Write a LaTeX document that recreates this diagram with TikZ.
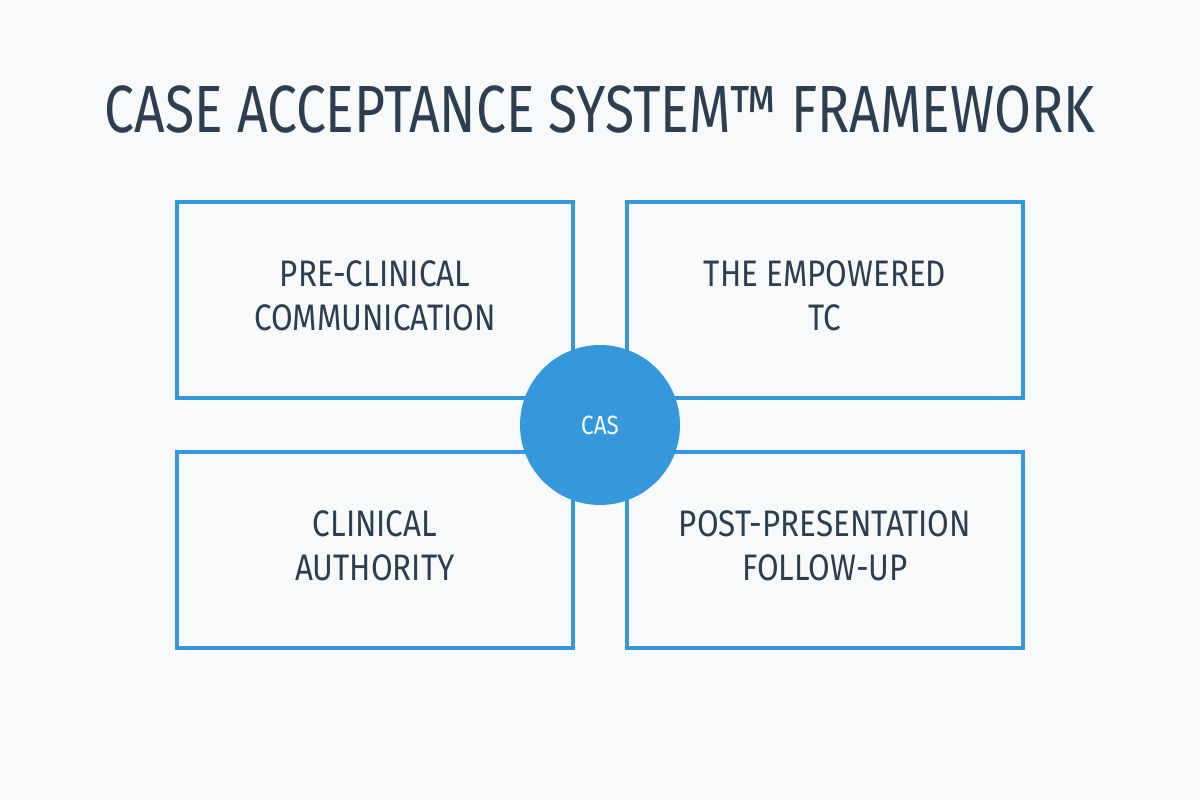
\documentclass[tikz,border=0pt]{standalone}
\usepackage{fontspec}
\setmainfont{Fira Sans}
\definecolor{bg}{HTML}{F7F9FB}
\definecolor{bl}{HTML}{3498DB}
\definecolor{tx}{HTML}{2C3E50}
\begin{document}
\begin{tikzpicture}[x=0.02cm,y=-0.02cm,
  box/.style={draw=bl,line width=2.2pt,fill=bg,minimum width=7.92cm,minimum height=3.92cm,align=center,text=tx,font=\fontsize{21}{25}\selectfont},
  hub/.style={circle,fill=bl,minimum size=3.2cm,text=white,font=\fontsize{15}{18}\selectfont}]
\fill[bg] (0,0) rectangle (1200,800);
\useasboundingbox (0,0) rectangle (1200,800);
\node[text=tx,font=\fontsize{38}{44}\selectfont] (title) at (600,110) {\scalebox{0.8}[1]{CASE ACCEPTANCE SYSTEM™ FRAMEWORK}};
\node[box] (tl) at (375,300) {\scalebox{0.85}[1]{\begin{tabular}{c}PRE-CLINICAL\\COMMUNICATION\end{tabular}}};
\node[box] (tr) at (825,300) {\scalebox{0.85}[1]{\begin{tabular}{c}THE EMPOWERED\\TC\end{tabular}}};
\node[box] (bl) at (375,550) {\scalebox{0.85}[1]{\begin{tabular}{c}CLINICAL\\AUTHORITY\end{tabular}}};
\node[box] (br) at (825,550) {\scalebox{0.85}[1]{\begin{tabular}{c}POST-PRESENTATION\\FOLLOW-UP\end{tabular}}};
\node[hub] (cas) at (600,425) {\scalebox{0.85}[1]{CAS}};
\end{tikzpicture}
\end{document}
